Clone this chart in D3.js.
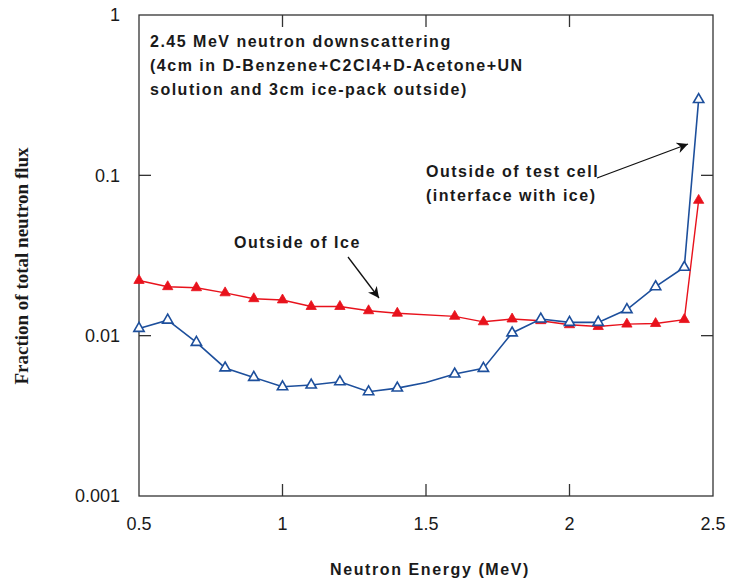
<!DOCTYPE html>
<html>
<head>
<meta charset="utf-8">
<script src="https://cdn.jsdelivr.net/npm/d3@7"></script>
<style>
  html, body { margin: 0; padding: 0; background: #fff; }
  svg { display: block; }
</style>
</head>
<body>
<svg id="chart" width="730" height="584"></svg>
<script>
// Neutron energy bins (MeV)
const energyIce = [0.5, 0.6, 0.7, 0.8, 0.9, 1.0, 1.1, 1.2, 1.3, 1.4, 1.6, 1.7, 1.8, 1.9, 2.0, 2.1, 2.2, 2.3, 2.4, 2.45];
const fluxIce = [0.0221, 0.0202, 0.0199, 0.0185, 0.0170, 0.0167, 0.0152, 0.0152, 0.0143, 0.0138, 0.0132, 0.0122, 0.0127, 0.0124, 0.0117, 0.0114, 0.0118, 0.0119, 0.0126, 0.0698];

const energyCell = [0.5, 0.6, 0.7, 0.8, 0.9, 1.0, 1.1, 1.2, 1.3, 1.4, 1.5, 1.6, 1.7, 1.8, 1.9, 2.0, 2.1, 2.2, 2.3, 2.4, 2.45];
const fluxCell = [0.0111, 0.0125, 0.00908, 0.00629, 0.00549, 0.00480, 0.00492, 0.00516, 0.00447, 0.00471, 0.00511, 0.00576, 0.00625, 0.0104, 0.0127, 0.0121, 0.0121, 0.01454, 0.0202, 0.0267, 0.297];
// energies on the test-cell curve plotted without a marker
const cellUnmarked = [1.5];

const xTickValues = [0.5, 1, 1.5, 2, 2.5];
const yTickValues = [0.001, 0.01, 0.1, 1];
const yTickLabels = ["0.001", "0.01", "0.1", "1"];

const svg = d3.select("#chart");
const m = { left: 139, right: 17, top: 15, bottom: 88 };
const W = 730, H = 584;
const iw = W - m.left - m.right, ih = H - m.top - m.bottom;

const x = d3.scaleLinear().domain([0.5, 2.5]).range([0, iw]);
const y = d3.scaleLog().domain([0.001, 1]).range([ih, 0]);

const g = svg.append("g").attr("transform", `translate(${m.left},${m.top})`);

const axisColor = "#333";
const textColor = "#1a1a1a";
const sans = "'Liberation Sans', Arial, sans-serif";

// Frame
g.append("rect").attr("width", iw).attr("height", ih)
  .attr("fill", "none").attr("stroke", axisColor).attr("stroke-width", 1.3);

// Inward ticks on all four sides (interior values only)
const innerX = xTickValues.filter(v => v > 0.5 && v < 2.5);
const innerY = yTickValues.filter(v => v > 0.001 && v < 1);
const tickLen = 12;
const ticks = g.append("g").attr("stroke", axisColor).attr("stroke-width", 1.3);
innerX.forEach(v => {
  ticks.append("line").attr("x1", x(v)).attr("x2", x(v)).attr("y1", ih).attr("y2", ih - tickLen);
  ticks.append("line").attr("x1", x(v)).attr("x2", x(v)).attr("y1", 0).attr("y2", tickLen);
});
innerY.forEach(v => {
  ticks.append("line").attr("x1", 0).attr("x2", tickLen).attr("y1", y(v)).attr("y2", y(v));
  ticks.append("line").attr("x1", iw).attr("x2", iw - tickLen).attr("y1", y(v)).attr("y2", y(v));
});

// Tick labels
g.append("g").selectAll("text").data(xTickValues).join("text")
  .attr("x", d => x(d)).attr("y", ih + 34)
  .attr("text-anchor", "middle")
  .attr("font-family", sans).attr("font-size", 18).attr("fill", textColor)
  .text(d => d);
g.append("g").selectAll("text").data(yTickValues).join("text")
  .attr("x", -19).attr("y", d => y(d)).attr("dy", "0.36em")
  .attr("text-anchor", "end")
  .attr("font-family", sans).attr("font-size", 18).attr("fill", textColor)
  .text((d, i) => yTickLabels[i]);

// Axis titles
svg.append("text")
  .attr("x", 430).attr("y", 575)
  .attr("text-anchor", "middle")
  .attr("font-family", sans).attr("font-weight", "bold").attr("font-size", 16)
  .attr("letter-spacing", 1.6).attr("fill", textColor)
  .text("Neutron Energy (MeV)");
svg.append("text")
  .attr("transform", "translate(28,266) rotate(-90)")
  .attr("text-anchor", "middle")
  .attr("font-family", "'Liberation Serif', 'Times New Roman', serif").attr("font-weight", "bold")
  .attr("font-size", 19).attr("fill", textColor)
  .text("Fraction of total neutron flux");

// Series
const line = d3.line().x(d => x(d[0])).y(d => y(d[1]));
const red = "#e8121c", blue = "#1d4f9c";
const tri = d3.symbol().type(d3.symbolTriangle).size(46);

const icePts = energyIce.map((e, i) => [e, fluxIce[i]]);
const cellPts = energyCell.map((e, i) => [e, fluxCell[i]]);

g.append("path").datum(icePts).attr("d", line)
  .attr("fill", "none").attr("stroke", red).attr("stroke-width", 1.4);
g.append("path").datum(cellPts).attr("d", line)
  .attr("fill", "none").attr("stroke", blue).attr("stroke-width", 1.6);

g.append("g").selectAll("path").data(icePts).join("path")
  .attr("transform", d => `translate(${x(d[0])},${y(d[1])})`)
  .attr("d", tri).attr("fill", red).attr("stroke", red).attr("stroke-width", 0.8);
g.append("g").selectAll("path").data(cellPts.filter(d => !cellUnmarked.includes(d[0]))).join("path")
  .attr("transform", d => `translate(${x(d[0])},${y(d[1])})`)
  .attr("d", tri).attr("fill", "#fff").attr("stroke", blue).attr("stroke-width", 1.6);

// Annotations
const noteText = sel => sel
  .attr("font-family", sans).attr("font-weight", "bold").attr("font-size", 16)
  .attr("letter-spacing", 1.5).attr("fill", textColor);

const title = svg.append("text").call(noteText);
["2.45 MeV neutron downscattering",
 "(4cm in D-Benzene+C2Cl4+D-Acetone+UN",
 "solution and 3cm ice-pack outside)"].forEach((t, i) => {
  title.append("tspan").attr("x", 150).attr("y", 47 + i * 24).text(t);
});

const cellNote = svg.append("text").call(noteText);
["Outside of test cell", "(interface with ice)"].forEach((t, i) => {
  cellNote.append("tspan").attr("x", 426).attr("y", 177 + i * 24).text(t);
});

svg.append("text").call(noteText)
  .attr("x", 234).attr("y", 248)
  .text("Outside of Ice");

// Leader arrows
const defs = svg.append("defs");
defs.append("marker").attr("id", "arrowhead")
  .attr("viewBox", "0 0 10 10").attr("refX", 10).attr("refY", 5)
  .attr("markerWidth", 11).attr("markerHeight", 11).attr("markerUnits", "userSpaceOnUse")
  .attr("orient", "auto")
  .append("path").attr("d", "M0,0 L10,5 L0,10 L3,5 Z").attr("fill", "#111");

[[348, 257, 379, 298], [597, 178, 688, 144]].forEach(a => {
  svg.append("line")
    .attr("x1", a[0]).attr("y1", a[1]).attr("x2", a[2]).attr("y2", a[3])
    .attr("stroke", "#111").attr("stroke-width", 1.3)
    .attr("marker-end", "url(#arrowhead)");
});
</script>
</body>
</html>
